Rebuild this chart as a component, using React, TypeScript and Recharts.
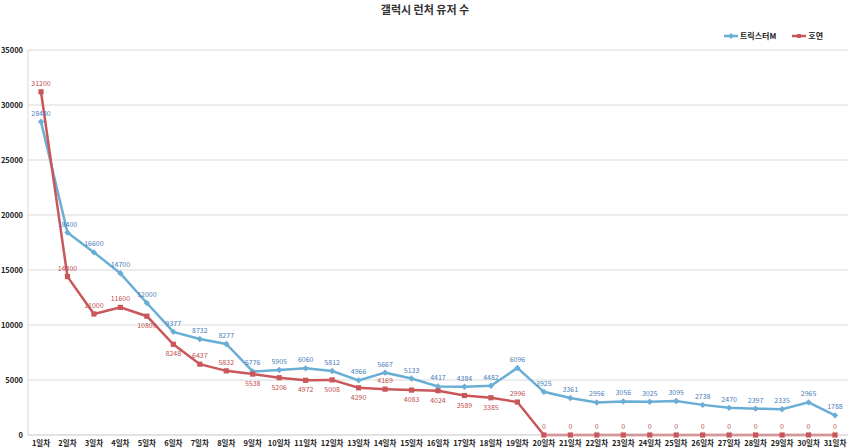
import React from "react"
import {
  LineChart,
  Line,
  XAxis,
  YAxis,
  CartesianGrid,
  LabelList
} from "recharts"

if (typeof document !== "undefined") document.body.style.margin = "0"

const days = Array.from({ length: 31 }, (_, i) => `${i + 1}일차`)
const trickster = [
  28480, 18400, 16600, 14700, 12000, 9377, 8732, 8277, 5776, 5905, 6060, 5812, 4966, 5667, 5133, 4417,
  4384, 4482, 6096, 3925, 3361, 2956, 3056, 3025, 3095, 2738, 2470, 2397, 2335, 2965, 1788
]
const hoyeon = [
  31200, 14400, 11000, 11600, 10800, 8248, 6437, 5832, 5538, 5206, 4972, 5008, 4290, 4169, 4083, 4024,
  3589, 3385, 2996, 0, 0, 0, 0, 0, 0, 0, 0, 0, 0, 0, 0
]
const yTicks = [0, 5000, 10000, 15000, 20000, 25000, 30000, 35000]

const data = days.map((d, i) => ({ name: d, trickster: trickster[i], hoyeon: hoyeon[i] }))

const BLUE = "#6aaed6"
const BLUE_TEXT = "#4a7ebb"
const RED = "#c9575a"
const RED_TEXT = "#c0504d"
const FONT = "'Noto Sans CJK KR', 'Noto Sans', sans-serif"

const Diamond = (props: any) => {
  const { cx, cy } = props
  if (cx == null || cy == null) return null
  return <path d={`M${cx},${cy - 3.2}L${cx + 3.2},${cy}L${cx},${cy + 3.2}L${cx - 3.2},${cy}Z`} fill={BLUE} />
}

const Square = (props: any) => {
  const { cx, cy } = props
  if (cx == null || cy == null) return null
  return <rect x={cx - 2.6} y={cy - 2.6} width={5.2} height={5.2} fill={RED} />
}

const blueLabel = (props: any) => {
  const { x, y, value } = props
  return (
    <text x={x} y={y - 6} textAnchor="middle" fontSize={7} fill={BLUE_TEXT} fontFamily={FONT}>
      {value}
    </text>
  )
}

const redLabel = (props: any) => {
  const { x, y, value, index } = props
  const diff = trickster[index] - hoyeon[index]
  const below = diff > 0 && diff <= 1200
  return (
    <text x={x} y={below ? y + 12 : y - 6} textAnchor="middle" fontSize={7} fill={RED_TEXT} fontFamily={FONT}>
      {value}
    </text>
  )
}

const XTick = (props: any) => {
  const { x, y, payload } = props
  return (
    <text x={x} y={y + 9} textAnchor="middle" fontSize={7.5} fill="#222" fontFamily={FONT} fontWeight={600}>
      {payload.value}
    </text>
  )
}

const YTick = (props: any) => {
  const { x, y, payload } = props
  return (
    <text x={x - 3} y={y + 3} textAnchor="end" fontSize={7.5} fill="#222" fontFamily={FONT} fontWeight={600}>
      {payload.value}
    </text>
  )
}

const App: React.FC = () => {
  return (
    <div style={{ position: "relative", width: 850, height: 448, background: "#fff", fontFamily: FONT }}>
      <div
        style={{
          position: "absolute",
          top: 1,
          left: 0,
          width: 850,
          textAlign: "center",
          fontSize: 11,
          fontWeight: 700,
          color: "#333"
        }}
      >
        갤럭시 런처 유저 수
      </div>
      <div
        style={{
          position: "absolute",
          top: 30,
          left: 724,
          display: "flex",
          alignItems: "center",
          fontSize: 8,
          fontWeight: 600,
          color: "#222"
        }}
      >
        <svg width={14} height={8}>
          <line x1={0} y1={4} x2={14} y2={4} stroke={BLUE} strokeWidth={2.5} />
          <path d="M7,1L10,4L7,7L4,4Z" fill={BLUE} />
        </svg>
        <span style={{ marginLeft: 2, marginRight: 16 }}>트릭스터M</span>
        <svg width={14} height={8}>
          <line x1={0} y1={4} x2={14} y2={4} stroke={RED} strokeWidth={2.5} />
          <rect x={5} y={2} width={4} height={4} fill={RED} />
        </svg>
        <span style={{ marginLeft: 2 }}>호연</span>
      </div>
      <div style={{ position: "absolute", top: 0, left: 0 }}>
        <LineChart width={850} height={448} data={data} margin={{ top: 50, right: 2, left: 0, bottom: 0 }}>
          <CartesianGrid vertical={false} stroke="#d9d9d9" />
          <XAxis
            dataKey="name"
            height={13}
            interval={0}
            tickLine={false}
            tickSize={0}
            padding={{ left: 13, right: 13 }}
            axisLine={{ stroke: "#d9d9d9" }}
            tick={<XTick />}
          />
          <YAxis
            width={28}
            domain={[0, 35000]}
            ticks={yTicks}
            tickLine={false}
            tickSize={0}
            axisLine={{ stroke: "#d9d9d9" }}
            tick={<YTick />}
          />
          <Line
            dataKey="trickster"
            stroke={BLUE}
            strokeWidth={2.5}
            dot={<Diamond />}
            activeDot={false}
            isAnimationActive={false}
          >
            <LabelList dataKey="trickster" content={blueLabel} />
          </Line>
          <Line
            dataKey="hoyeon"
            stroke={RED}
            strokeWidth={2.5}
            dot={<Square />}
            activeDot={false}
            isAnimationActive={false}
          >
            <LabelList dataKey="hoyeon" content={redLabel} />
          </Line>
        </LineChart>
      </div>
    </div>
  )
}

export default App
